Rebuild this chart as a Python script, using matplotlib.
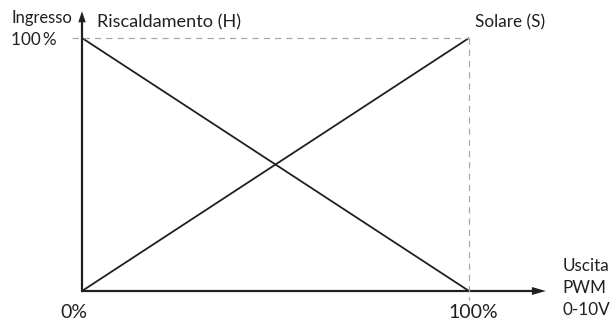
import matplotlib
matplotlib.use("Agg")
import matplotlib.pyplot as plt

# data: output (x, %) vs input (y, %)
uscita = [0, 100]
riscaldamento = [100, 0]
solare = [0, 100]

plt.rcParams['font.family'] = ['Lato', 'DejaVu Sans']

W, H = 614, 323
fig = plt.figure(figsize=(W / 100, H / 100), dpi=100)

# axes box: 0..100 in data -> pixel frame of the reference
x0, x1, y0, y1 = 82, 469, 291, 38
ax = fig.add_axes([x0 / W, 1 - y0 / H, (x1 - x0) / W, (y0 - y1) / H])
ax.set_xlim(0, 100)
ax.set_ylim(0, 100)
ax.axis('off')
px_x = 100 / (x1 - x0)   # data units per pixel, x
px_y = 100 / (y0 - y1)   # data units per pixel, y

col = '#231f20'
ax.plot(uscita, riscaldamento, color=col, lw=1.3, solid_capstyle='butt', clip_on=False)
ax.plot(uscita, solare, color=col, lw=1.3, solid_capstyle='butt', clip_on=False)

# dashed guides at 100%
grey = '#a8a8a8'
ax.plot([-2.6, 100], [100, 100], color=grey, lw=0.9, ls=(0, (5, 4)), clip_on=False)
ax.plot([100, 100], [100, -3.6], color=grey, lw=0.9, ls=(0, (5, 4)), clip_on=False)

# axes with arrows
ax.arrow(-0.5 * px_x, 0, 120, 0, width=2.2 * px_y, head_width=8 * px_y, head_length=14 * px_x,
         length_includes_head=True, color=col, lw=0, clip_on=False)
ax.arrow(0, -1.1 * px_y, 0, 111, width=2.2 * px_x, head_width=7.5 * px_x, head_length=11 * px_y,
         length_includes_head=True, color=col, lw=0, clip_on=False)

fs = 12.3
ax.text(-18.3, 108, 'Ingresso', fontsize=11.9, color=col, ha='left', va='center')
ax.text(-18.3, 99.2, '100\u2009%', fontsize=12.3, color=col, ha='left', va='center')
ax.text(3.9, 106.3, 'Riscaldamento (H)', fontsize=13.1, color=col, ha='left', va='center')
ax.text(101.6, 106.3, 'Solare (S)', fontsize=fs, color=col, ha='left', va='center')
ax.text(-2.2, -8.5, '0%', fontsize=14, color=col, ha='center', va='center')
ax.text(101.2, -8.5, '100%', fontsize=14, color=col, ha='center', va='center')
ax.text(124.2, 10, 'Uscita', fontsize=fs, color=col, ha='left', va='center')
ax.text(124.2, 1.2, 'PWM', fontsize=fs, color=col, ha='left', va='center')
ax.text(124.2, -7.5, '0-10V', fontsize=fs, color=col, ha='left', va='center')

fig.savefig('out.png', dpi=100)
